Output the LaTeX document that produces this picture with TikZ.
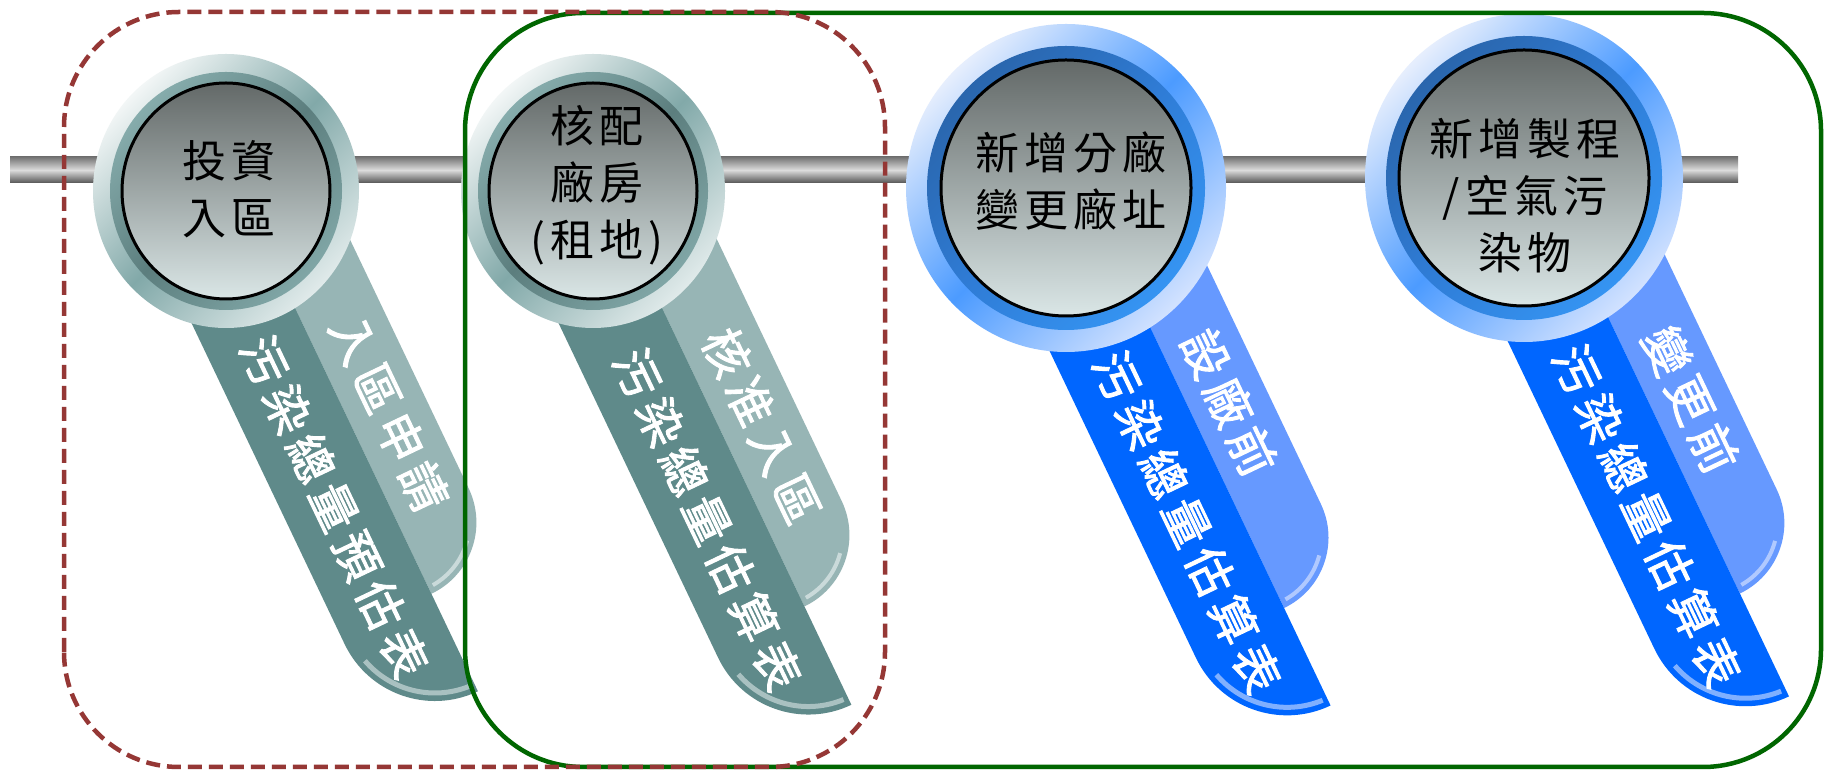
\documentclass[tikz,border=0pt]{standalone}
\usepackage{fontspec}
\newfontfamily\cjkmed[LetterSpace=12]{Noto Sans CJK TC}
\newfontfamily\cjkrib[LetterSpace=15,FakeBold=2]{Noto Sans CJK TC}
\definecolor{railA}{HTML}{747474}
\definecolor{railB}{HTML}{DCDCDC}
\definecolor{railC}{HTML}{555555}
\definecolor{innerTop}{HTML}{636968}
\definecolor{innerBot}{HTML}{DAE6E6}
\definecolor{tealOutA}{HTML}{F2F6F6}
\definecolor{tealOutB}{HTML}{82A9A9}
\definecolor{tealOutC}{HTML}{E0EAEA}
\definecolor{tealBandA}{HTML}{86ACAC}
\definecolor{tealBandB}{HTML}{5C7E7E}
\definecolor{tealBandC}{HTML}{80A6A6}
\definecolor{tealdarkc}{HTML}{5F8A8A}
\definecolor{teallightc}{HTML}{97B5B5}
\definecolor{tealdarkhlc}{HTML}{A9C1C1}
\definecolor{teallighthlc}{HTML}{CADADA}
\definecolor{blueOutA}{HTML}{E6EEFD}
\definecolor{blueOutB}{HTML}{4C9BFF}
\definecolor{blueOutC}{HTML}{D2E2FF}
\definecolor{blueBandA}{HTML}{2A66AD}
\definecolor{blueBandB}{HTML}{2F7CD6}
\definecolor{blueBandC}{HTML}{3594F2}
\definecolor{bluedarkc}{HTML}{0066FF}
\definecolor{bluelightc}{HTML}{6699FF}
\definecolor{bluedarkhlc}{HTML}{80B0FF}
\definecolor{bluelighthlc}{HTML}{B0C9FF}
\definecolor{boxred}{HTML}{953735}
\definecolor{boxgreen}{HTML}{006600}
\tikzset{
  tealouter/.style={top color=tealOutA, bottom color=tealOutC, middle color=tealOutB, shading angle=45},
  tealband/.style={top color=tealBandA, bottom color=tealBandC, middle color=tealBandB, shading angle=45},
  blueouter/.style={top color=blueOutA, bottom color=blueOutC, middle color=blueOutB, shading angle=45},
  blueband/.style={top color=blueBandA, bottom color=blueBandC, middle color=blueBandB, shading angle=45},
  innerdisc/.style={top color=innerTop, bottom color=innerBot, draw=black, line width=3pt},
  tealdark/.style={fill=tealdarkc}, teallight/.style={fill=teallightc},
  tealdarkhl/.style={draw=tealdarkhlc}, teallighthl/.style={draw=teallighthlc},
  bluedark/.style={fill=bluedarkc}, bluelight/.style={fill=bluelightc},
  bluedarkhl/.style={draw=bluedarkhlc}, bluelighthl/.style={draw=bluelighthlc},
  ribtext/.style={transform shape, anchor=west, inner sep=0pt, text=white,
    font=\cjkrib\fontsize{47}{47}\selectfont},
  medtext/.style={align=center, inner sep=0pt, text=black,
    font=\cjkmed\fontsize{44}{57}\selectfont},
  railbar/.style={top color=railA, bottom color=railC, middle color=railB},
  groupbox/.style={draw=boxgreen, line width=4.5pt, rounded corners=118pt},
  dashbox/.style={draw=boxred, line width=4.5pt, dash pattern=on 14pt off 7pt, rounded corners=115pt}
}
% #1 name, #2 centre, #3 scheme, #4 end of front ribbon, #5 end of back ribbon,
% #6 front text, #7 back text, #8 front text start, #9 back text start
\newcommand{\ribbonpair}[9]{%
  \begin{scope}[shift={#2}, rotate=-64.5]
    \pgfmathsetmacro{\rl}{\vhi-\vmid}
    \pgfmathsetmacro{\rd}{\vmid-\vlo}
    \path[#3light] (0,\vmid) -- (0,\vhi) -- ({#5-\rl},\vhi)
      arc[start angle=90, end angle=0, radius=\rl] -- cycle;
    \draw[#3lighthl, line width=4pt] ({#5-\rl+(\rl-7)*cos(4)},{\vmid+(\rl-7)*sin(4)})
      arc[start angle=4, end angle=50, radius=\rl-7];
    \path[#3dark] (0,\vlo) -- ({#4-\rd},\vlo)
      arc[start angle=-90, end angle=0, radius=\rd] -- (0,\vmid) -- cycle;
    \draw[#3darkhl, line width=5pt] ({#4-\rd+(\rd-8)*cos(-75)},{\vmid+(\rd-8)*sin(-75)})
      arc[start angle=-75, end angle=-3, radius=\rd-8];
    \node[ribtext] (#1d) at (#8,{(\vlo+\vmid)/2}) {#6};
    \node[ribtext] (#1l) at (#9,{(\vmid+\vhi)/2}) {#7};
  \end{scope}}
% #1 name, #2 centre, #3 scheme, radii
\newcommand{\medalrings}[9]{%
  \coordinate (#1) at #2;
  \path[#3outer] (#1) ellipse[x radius=#4, y radius=#5];
  \path[#3band] (#1) ellipse[x radius=#6, y radius=#7];
  \path[innerdisc] (#1) ellipse[x radius=#8, y radius=#9];
}
\begin{document}
\begin{tikzpicture}[x=1pt, y=1pt]
\useasboundingbox (0,0) rectangle (1825,770);
\fill[white] (0,0) rectangle (1825,770);
% rail
\path[railbar] (10,587) rectangle (1738,613);
% medal 1
\def\vlo{-88}\def\vmid{12}\def\vhi{91}
\ribbonpair{r1}{(226,579)}{teal}{560}{452}{污染總量預估表}{入區申請}{146}{166}
\medalrings{m1}{(226,579)}{teal}{133}{137}{116}{119}{104}{108}
\node[medtext] (m1t) at (229,581) {投資\\入區};
% medal 2
\ribbonpair{r2}{(593,579)}{teal}{575}{466}{污染總量估算表}{核准入區}{160}{180}
\medalrings{m2}{(593,579)}{teal}{132}{137}{115}{119}{104}{108}
\node[medtext] (m2t) at (597,585) {核配\\廠房\\(租地)};
% medal 3
\def\vlo{-85}\def\vmid{16}\def\vhi{94}
\ribbonpair{r3}{(1066,582)}{blue}{581}{473}{污染總量估算表}{設廠前}{168}{186}
\medalrings{m3}{(1066,582)}{blue}{160}{164}{139}{142}{125}{128}
\node[medtext] (m3t) at (1071,589) {新增分廠\\變更廠址};
% medal 4
\ribbonpair{r4}{(1524,592)}{blue}{582}{468}{污染總量估算表}{變更前}{172}{194}
\medalrings{m4}{(1524,592)}{blue}{159}{164}{138}{142}{125}{128}
\node[medtext] (m4t) at (1525,574) {新增製程\\/空氣污\\染物};
% group boxes
\path[groupbox] (465,3) rectangle (1821,757);
\path[dashbox] (64,3) rectangle (885,758);
\end{tikzpicture}
\end{document}
